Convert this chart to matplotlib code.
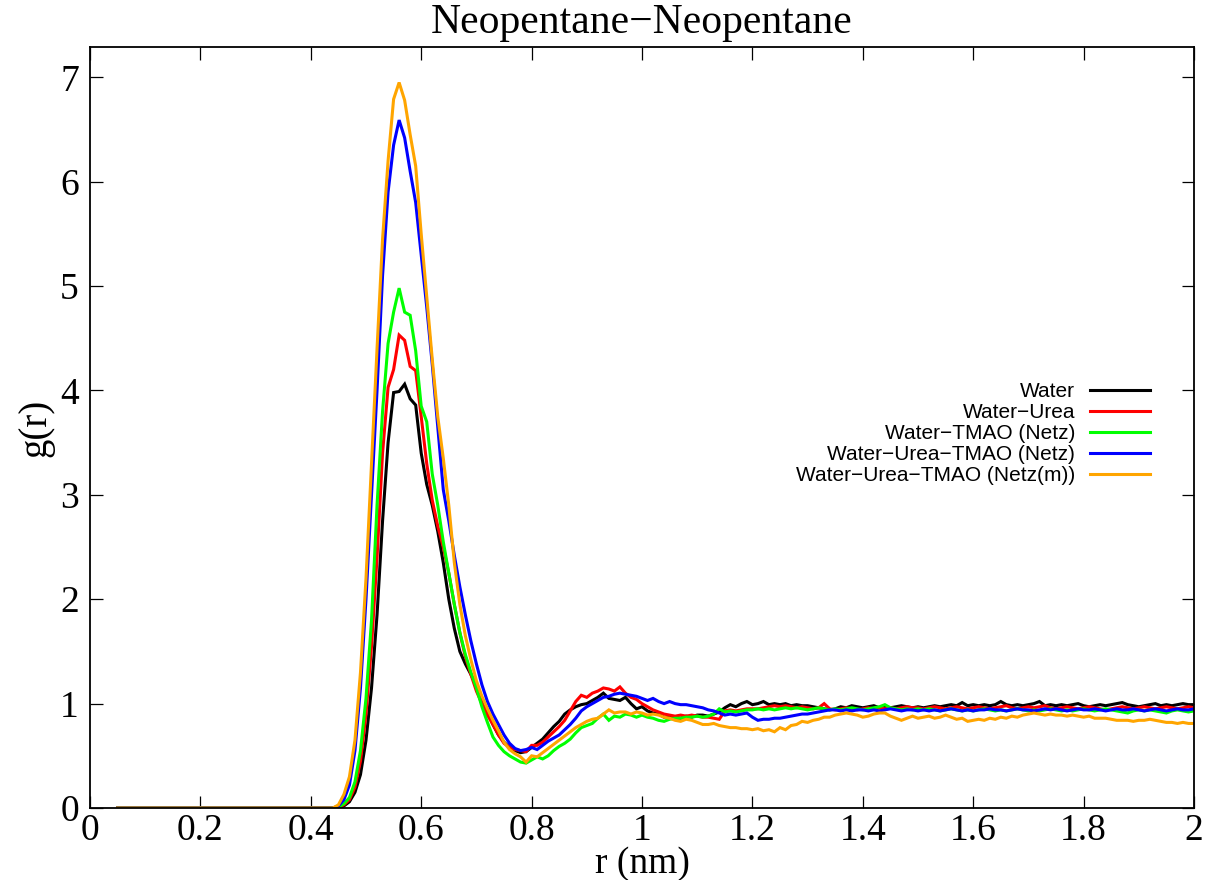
import numpy as np
import matplotlib
matplotlib.use("Agg")
import matplotlib.pyplot as plt
from matplotlib.ticker import FuncFormatter

# ---------------- data ----------------
r_first, r_last = 0.05, 2.00          # nm, bin centres every 0.01 nm
r = np.linspace(r_first, r_last, 196)

# g(r) is zero for every series from 0.05 to 0.44 nm (excluded volume)
g_core = [0.0, 0.0, 0.0, 0.0, 0.0, 0.0, 0.0, 0.0, 0.0, 0.0,
          0.0, 0.0, 0.0, 0.0, 0.0, 0.0, 0.0, 0.0, 0.0, 0.0,
          0.0, 0.0, 0.0, 0.0, 0.0, 0.0, 0.0, 0.0, 0.0, 0.0,
          0.0, 0.0, 0.0, 0.0, 0.0, 0.0, 0.0, 0.0, 0.0, 0.0]

# values from r = 0.45 nm to 2.00 nm
g_water = [
    0.00, 0.02, 0.06, 0.15, 0.32, 0.65, 1.15, 1.85, 2.75, 3.50,
    3.98, 3.99, 4.06, 3.92, 3.86, 3.40, 3.10, 2.90, 2.65, 2.35,
    2.00, 1.72, 1.50, 1.38, 1.28, 1.17, 1.03, 0.92, 0.80, 0.70,
    0.63, 0.58, 0.55, 0.53, 0.54, 0.58, 0.62, 0.66, 0.72, 0.78,
    0.83, 0.90, 0.94, 0.97, 0.99, 1.00, 1.03, 1.06, 1.10, 1.05,
    1.04, 1.03, 1.06, 1.00, 0.95, 0.97, 0.93, 0.91, 0.90, 0.87,
    0.87, 0.86, 0.86, 0.88, 0.87, 0.89, 0.89, 0.88, 0.90, 0.92,
    0.96, 0.99, 0.97, 1.00, 1.02, 0.99, 1.00, 1.02, 0.99, 1.00,
    0.99, 1.00, 0.98, 0.99, 0.98, 0.98, 0.97, 0.96, 0.95, 0.94,
    0.95, 0.97, 0.96, 0.98, 0.97, 0.96, 0.97, 0.98, 0.96, 0.97,
    0.96, 0.97, 0.98, 0.97, 0.96, 0.97, 0.96, 0.97, 0.98, 0.97,
    0.98, 0.99, 0.98, 1.01, 0.98, 0.99, 0.98, 0.99, 0.98, 0.99,
    1.02, 0.99, 0.98, 0.99, 0.98, 0.99, 1.00, 1.02, 0.98, 0.99,
    0.98, 0.99, 0.98, 0.99, 1.00, 0.98, 0.97, 0.98, 0.99, 0.98,
    0.99, 1.00, 1.01, 0.99, 0.98, 0.97, 0.98, 0.99, 1.00, 0.98,
    0.99, 0.98, 0.99, 1.00, 0.99, 0.99]

g_urea = [
    0.01, 0.03, 0.08, 0.20, 0.45, 0.90, 1.55, 2.40, 3.40, 4.03,
    4.20, 4.53, 4.48, 4.23, 4.19, 3.75, 3.30, 2.95, 2.70, 2.50,
    2.25, 1.95, 1.68, 1.45, 1.28, 1.12, 1.00, 0.89, 0.80, 0.70,
    0.62, 0.58, 0.56, 0.55, 0.54, 0.60, 0.60, 0.63, 0.68, 0.73,
    0.78, 0.84, 0.93, 1.02, 1.08, 1.06, 1.10, 1.12, 1.15, 1.14,
    1.12, 1.16, 1.10, 1.06, 1.04, 1.00, 0.97, 0.94, 0.92, 0.90,
    0.89, 0.88, 0.89, 0.88, 0.89, 0.88, 0.87, 0.87, 0.86, 0.85,
    0.93, 0.94, 0.93, 0.94, 0.95, 0.95,
    0.95, 0.96, 0.97, 0.98, 0.97, 0.98, 0.97, 0.96, 0.97, 0.96,
    0.95, 0.96, 1.00, 0.95, 0.94, 0.95, 0.96, 0.95, 0.94, 0.95,
    0.96, 0.95, 0.96, 0.95, 0.96, 0.95, 0.96, 0.97, 0.96, 0.96,
    0.95, 0.96, 0.97, 0.96, 0.95, 0.96, 0.97, 0.96, 0.95, 0.96,
    0.97, 0.96, 0.95, 0.96, 0.97, 0.98, 0.96, 0.95, 0.96, 0.97,
    0.96, 0.97, 0.98, 0.96, 0.95, 0.96, 0.97, 0.96, 0.95, 0.96,
    0.97, 0.96, 0.95, 0.94, 0.95, 0.96, 0.97, 0.96, 0.95, 0.96,
    0.97, 0.96, 0.95, 0.96, 0.97, 0.96, 0.95, 0.96, 0.97, 0.96]

g_tmao = [
    0.01, 0.04, 0.10, 0.25, 0.55, 1.05, 1.80, 2.90, 3.80, 4.45,
    4.75, 4.98, 4.75, 4.72, 4.38, 3.85, 3.70, 3.20, 2.90, 2.55,
    2.25, 1.95, 1.68, 1.47, 1.30, 1.15, 0.97, 0.82, 0.68, 0.60,
    0.54, 0.50, 0.47, 0.44, 0.43, 0.46, 0.49, 0.47, 0.50, 0.55,
    0.59, 0.62, 0.66, 0.72, 0.77, 0.79, 0.81, 0.86, 0.90, 0.84,
    0.88, 0.87, 0.90, 0.89, 0.87, 0.89, 0.87, 0.86, 0.84, 0.83,
    0.85, 0.86, 0.86, 0.87, 0.87, 0.88, 0.87, 0.88, 0.90, 0.95,
    0.92, 0.93, 0.92, 0.93, 0.94, 0.94,
    0.95, 0.94, 0.95, 0.94, 0.95, 0.96, 0.95, 0.96, 0.95, 0.94,
    0.95, 0.96, 0.95, 0.94, 0.95, 0.94, 0.95, 0.96, 0.95, 0.94,
    0.95, 0.96, 0.97, 0.99, 0.96, 0.95, 0.94, 0.95, 0.94, 0.95,
    0.94, 0.95, 0.94, 0.93, 0.94, 0.95, 0.94, 0.93, 0.94, 0.93,
    0.94, 0.95, 0.94, 0.93, 0.94, 0.93, 0.94, 0.95, 0.94, 0.93,
    0.94, 0.93, 0.94, 0.95, 0.94, 0.93, 0.94, 0.93, 0.94, 0.95,
    0.94, 0.93, 0.94, 0.95, 0.94, 0.93, 0.92, 0.91, 0.93, 0.94,
    0.93, 0.94, 0.93, 0.92, 0.91, 0.93, 0.94, 0.93, 0.92, 0.93]

g_urea_tmao = [
    0.02, 0.08, 0.22, 0.55, 1.15, 2.00, 3.00, 4.00, 5.10, 5.90,
    6.35, 6.59, 6.42, 6.10, 5.80, 5.30, 4.80, 4.25, 3.65, 3.05,
    2.75, 2.42, 2.12, 1.85, 1.60, 1.38, 1.18, 1.02, 0.90, 0.80,
    0.70, 0.62, 0.57, 0.55, 0.56, 0.58, 0.56, 0.60, 0.64, 0.67,
    0.70, 0.75, 0.80, 0.86, 0.93, 0.97, 1.00, 1.03, 1.06, 1.07,
    1.09, 1.10, 1.09, 1.08, 1.07, 1.05, 1.03, 1.05, 1.02, 1.00,
    1.02, 1.00, 0.99, 0.99, 0.98, 0.97, 0.96, 0.94, 0.93, 0.91,
    0.89, 0.90, 0.89, 0.90, 0.91, 0.87,
    0.84, 0.85, 0.85, 0.86, 0.86, 0.87, 0.88, 0.89, 0.90, 0.90,
    0.91, 0.92, 0.93, 0.94, 0.94, 0.93, 0.94, 0.93, 0.94, 0.94,
    0.93, 0.94, 0.93, 0.94, 0.95, 0.94, 0.93, 0.94, 0.94, 0.93,
    0.94, 0.93, 0.94, 0.93, 0.94, 0.95, 0.94, 0.93, 0.94, 0.93,
    0.94, 0.94, 0.95, 0.94, 0.94, 0.93, 0.94, 0.95, 0.94, 0.94,
    0.93, 0.94, 0.95, 0.94, 0.95, 0.94, 0.93, 0.94, 0.95, 0.94,
    0.94, 0.95, 0.94, 0.93, 0.94, 0.95, 0.94, 0.94, 0.95, 0.94,
    0.93, 0.94, 0.95, 0.94, 0.93, 0.94, 0.95, 0.94, 0.94, 0.95]

g_urea_tmao_m = [
    0.03, 0.13, 0.30, 0.65, 1.30, 2.20, 3.30, 4.40, 5.45, 6.20,
    6.79, 6.95, 6.78, 6.45, 6.15, 5.50, 4.90, 4.30, 3.75, 3.35,
    2.90, 2.35, 1.95, 1.65, 1.42, 1.22, 1.07, 0.95, 0.84, 0.74,
    0.63, 0.56, 0.52, 0.49, 0.44, 0.50,
    0.49, 0.53, 0.57, 0.61, 0.65, 0.69, 0.73, 0.77, 0.80, 0.83,
    0.85, 0.86, 0.90, 0.94, 0.91, 0.92, 0.92, 0.90, 0.92, 0.91,
    0.89, 0.90, 0.89, 0.87, 0.86, 0.84, 0.83, 0.85, 0.84, 0.82,
    0.80, 0.80, 0.81, 0.79, 0.78, 0.77, 0.77, 0.76, 0.76, 0.75,
    0.76, 0.74, 0.75, 0.73, 0.77, 0.75, 0.79, 0.80, 0.83, 0.82,
    0.84, 0.85, 0.87, 0.87, 0.89, 0.90, 0.91, 0.90, 0.89, 0.87,
    0.88, 0.90, 0.91, 0.91, 0.88, 0.86, 0.84, 0.86, 0.88, 0.86,
    0.87, 0.88, 0.86, 0.87, 0.89, 0.87, 0.85, 0.86, 0.83, 0.84,
    0.85, 0.84, 0.86, 0.85, 0.87, 0.86, 0.88, 0.87, 0.89, 0.90,
    0.91, 0.90, 0.89, 0.90, 0.89, 0.89, 0.88, 0.89, 0.88, 0.87,
    0.88, 0.86, 0.86, 0.86, 0.85, 0.84, 0.84, 0.84, 0.83, 0.84,
    0.84, 0.85, 0.84, 0.83, 0.82, 0.82, 0.81, 0.82, 0.81, 0.81]

series_labels = ["Water", "Water\u2212Urea", "Water\u2212TMAO (Netz)",
                 "Water\u2212Urea\u2212TMAO (Netz)",
                 "Water\u2212Urea\u2212TMAO (Netz(m))"]
series_values = [g_water, g_urea, g_tmao, g_urea_tmao, g_urea_tmao_m]
series_colors = ["#000000", "#ff0000", "#00ff00", "#0000ff", "#ffa500"]

x_ticks = [0, 0.2, 0.4, 0.6, 0.8, 1.0, 1.2, 1.4, 1.6, 1.8, 2.0]
y_ticks = [0, 1, 2, 3, 4, 5, 6, 7]

# ---------------- figure ----------------
fig = plt.figure(figsize=(12.12, 8.80), dpi=100)
ax = fig.add_axes([90 / 1212, 1 - 808 / 880, (1194 - 90) / 1212, (808 - 47) / 880])

serif = ["Liberation Serif", "DejaVu Serif"]
sans = ["Liberation Sans", "DejaVu Sans"]

for vals, lab, col in zip(series_values, series_labels, series_colors):
    y = np.array(g_core + vals)
    assert len(y) == len(r), (lab, len(y))
    ax.plot(r, y, color=col, lw=2.2, label=lab, solid_joinstyle="miter")

ax.set_xlim(0, 2)
ax.set_ylim(0, 7.29)
ax.set_xticks(x_ticks)
ax.set_yticks(y_ticks)
ax.xaxis.set_major_formatter(FuncFormatter(lambda v, p: f"{v:g}"))
ax.yaxis.set_major_formatter(FuncFormatter(lambda v, p: f"{v:g}"))
ax.tick_params(direction="in", length=9, width=0.9, top=True, right=True,
               labelsize=27)
ax.tick_params(axis="x", pad=4)
ax.tick_params(axis="y", pad=8)
for lbl in ax.get_xticklabels() + ax.get_yticklabels():
    lbl.set_family(serif)
for s in ax.spines.values():
    s.set_linewidth(1.3)

ax.set_title("Neopentane\u2212Neopentane", family=serif, fontsize=30, pad=10)
ax.set_xlabel("r (nm)", family=serif, fontsize=27, labelpad=-1)
ax.set_ylabel("g(r)", family=serif, fontsize=28, labelpad=4)

leg = ax.legend(loc="center right", bbox_to_anchor=(0.970, 0.492),
                frameon=False, markerfirst=False, borderpad=0,
                handlelength=2.9, handletextpad=0.72, labelspacing=0.09,
                prop={"family": sans, "size": 15})

fig.savefig("out.png", dpi=100)
